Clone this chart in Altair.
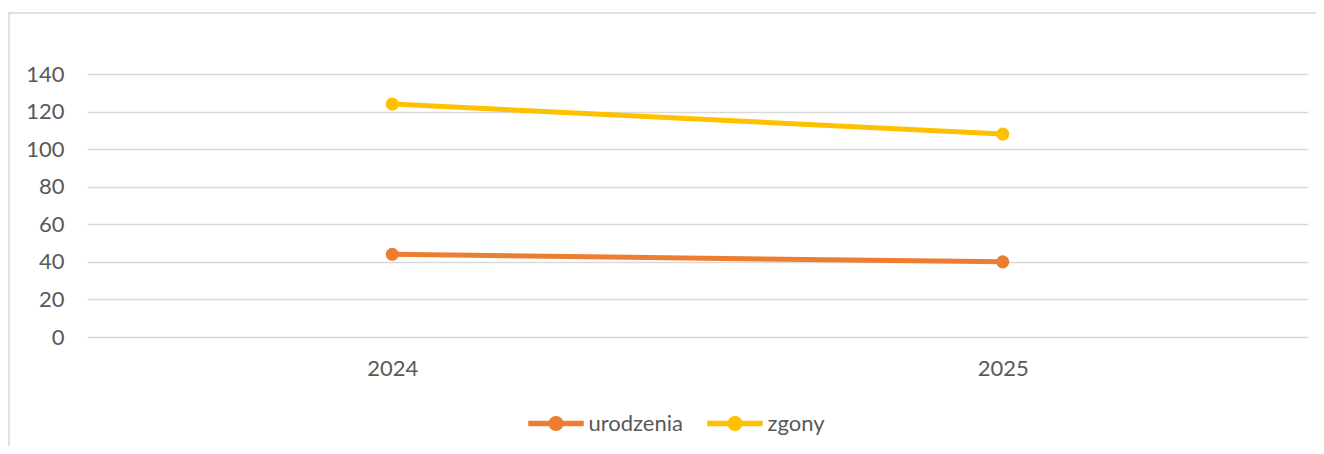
import math
import altair as alt
import pandas as pd

years = ["2024", "2025"]
series = ["urodzenia", "zgony"]
urodzenia = [44, 40]
zgony = [124, 108]
colors = ["#ED7D31", "#FFC000"]
y_ticks = [0, 20, 40, 60, 80, 100, 120, 140]

rows = []
for name, vals in zip(series, [urodzenia, zgony]):
    for yr, v in zip(years, vals):
        rows.append({"rok": yr, "seria": name, "wartosc": v})
df = pd.DataFrame(rows)

FONT = "Lato"
GREY = "#595959"
GRID = "#D9D9D9"

W, H = 1221, 263
PAD = {"left": 79, "top": 66, "right": 8, "bottom": 109}

x = alt.X("rok:N", title=None, sort=years,
          scale=alt.Scale(type="point", padding=0.5),
          axis=alt.Axis(labelAngle=0, domain=False, ticks=False, grid=False,
                        labelPadding=21, labelFontSize=22, labelColor=GREY, labelFont=FONT))
y = alt.Y("wartosc:Q", title=None,
          scale=alt.Scale(domain=[0, 140], nice=False),
          axis=alt.Axis(values=y_ticks, domain=False, ticks=False, grid=True,
                        gridColor=GRID, gridWidth=1.3, labelPadding=23,
                        labelFontSize=22, labelColor=GREY, labelFont=FONT))
color_scale = alt.Scale(domain=series, range=colors)

base = alt.Chart(df)

lines = base.mark_line(strokeWidth=5).encode(
    x=x, y=y,
    color=alt.Color("seria:N", scale=color_scale, legend=None),
    detail="seria:N",
)

# legend symbol: horizontal line with a dot (unit square -1..1)
r = 0.27
circle = " ".join(
    ("M" if i == 0 else "L") + f"{r*math.cos(2*math.pi*i/32):.4f},{r*math.sin(2*math.pi*i/32):.4f}"
    for i in range(32)
) + " Z"
symbol_path = "M-1,-0.1 L1,-0.1 L1,0.1 L-1,0.1 Z " + circle

points = base.mark_point(filled=True, size=170, opacity=1, strokeWidth=0).encode(
    x=x, y=y,
    color=alt.Color("seria:N", scale=color_scale, sort=series,
                    legend=alt.Legend(title=None, orient="none", direction="horizontal",
                                      legendX=441, legendY=321.5, padding=0,
                                      symbolType=symbol_path, symbolSize=3080,
                                      symbolStrokeWidth=0, symbolOpacity=1,
                                      labelFont=FONT, labelFontSize=22, labelColor=GREY,
                                      labelOffset=4.5, columnPadding=24)),
)

frame_data = alt.Data(values=[{"k": 1}])
frame_top = alt.Chart(frame_data).mark_rule(color=GRID, strokeWidth=1.5).encode(
    x=alt.value(-79), x2=alt.value(W + 8), y=alt.value(-61))
frame_left = alt.Chart(frame_data).mark_rule(color=GRID, strokeWidth=1.5).encode(
    x=alt.value(-78), y=alt.value(-61), y2=alt.value(H + 120))

chart = alt.layer(frame_top, frame_left, lines, points).properties(
    width=W, height=H,
    padding=PAD,
    background="white",
    autosize=alt.AutoSizeParams(type="none"),
).resolve_legend(color="independent").configure_view(
    stroke="transparent", strokeWidth=0
)

chart.save("out.html", embed_options={"renderer": "svg", "actions": False})
